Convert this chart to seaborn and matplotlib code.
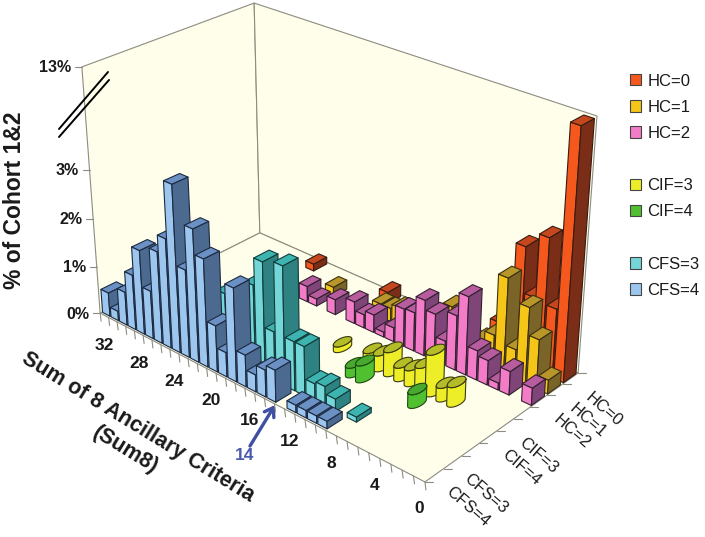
import numpy as np
import seaborn as sns
import matplotlib
matplotlib.use("Agg")
import matplotlib.pyplot as plt
from matplotlib.lines import Line2D
from matplotlib.patches import Patch, FancyArrowPatch
from mpl_toolkits.mplot3d.art3d import Poly3DCollection

sns.set_theme(style="white")
plt.rcParams['font.family'] = ['Liberation Sans', 'DejaVu Sans']

W, H = 705, 537

# --- data: Sum8 value and % of cohort for each group ---
hc0_sum8 = [25, 17, 7, 6, 4, 3, 2, 1, 0]
hc0_pct = [0.15, 0.25, 0.2, 0.65, 2.37, 1.45, 2.72, 1.4, 12.7]
hc1_sum8 = [21, 16, 15, 14, 9, 6, 5, 4, 3, 2, 1, 0]
hc1_pct = [0.2, 0.3, 0.3, 0.4, 0.9, 0.5, 0.7, 1.95, 0.6, 1.55, 1.0, 0.28]
hc2_sum8 = [22, 21, 19, 17, 16, 15, 14, 13, 12, 11, 10, 9, 8, 7, 6, 5, 4, 3, 2, 0]
hc2_pct = [0.33, 0.15, 0.32, 0.46, 0.28, 0.37, 0.1, 0.29, 0.78, 0.8, 1.15, 0.96, 0.5,
           1.12, 1.6, 0.6, 0.5, 0.14, 0.48, 0.35]
cif3_sum8 = [15, 12, 11, 10, 9, 8, 7, 6, 5, 4]
cif3_pct = [0.12, 0.28, 0.33, 0.5, 0.28, 0.33, 0.48, 0.85, 0.28, 0.4]
cif4_sum8 = [12, 11, 6]
cif4_pct = [0.2, 0.35, 0.28]
cfs3_sum8 = [21, 18, 17, 16, 15, 14, 13, 12, 11, 10, 8]
cfs3_pct = [1.3, 1.75, 2.3, 1.0, 2.4, 1.0, 1.0, 0.35, 0.4, 0.25, 0.1]
cfs4_sum8 = [32, 31, 30, 29, 28, 27, 26, 25, 24, 23, 22, 21, 20, 19, 18, 17, 16, 15, 14,
             12, 11, 10, 9]
cfs4_pct = [0.5, 0.2, 0.7, 1.15, 1.75, 1.0, 1.9, 2.25, 3.4, 1.8, 2.7, 2.2, 0.95, 0.5, 1.9,
            0.65, 0.35, 0.55, 0.65, 0.15, 0.15, 0.15, 0.15]

group_names = ["HC=0", "HC=1", "HC=2", "CIF=3", "CIF=4", "CFS=3", "CFS=4"]
group_slots = [8, 7, 6, 4, 3, 1, 0]
group_sum8 = [hc0_sum8, hc1_sum8, hc2_sum8, cif3_sum8, cif4_sum8, cfs3_sum8, cfs4_sum8]
group_pct = [hc0_pct, hc1_pct, hc2_pct, cif3_pct, cif4_pct, cfs3_pct, cfs4_pct]
sum8_ticks = [32, 28, 24, 20, 16, 12, 8, 4, 0]
pct_ticks = [0, 1, 2, 3, 13]
pct_labels = ["0%", "1%", "2%", "3%", "13%"]

# front, side, top colour per group
group_colors = [
    ("#F4581C", "#7A2E18", "#C4481E"),
    ("#F5C518", "#7B6428", "#B8962A"),
    ("#F27CC8", "#7F4478", "#B85CA0"),
    ("#EEEE28", "#EEEE28", "#B4BC28"),
    ("#50C030", "#50C030", "#48A830"),
    ("#74D6D6", "#2E8282", "#3DB4B0"),
    ("#9CC6EE", "#4C6A90", "#6A90C4"),
]
edge_colors = ["#3a1a10", "#3a3010", "#33202f", "#3a3a10", "#1c4a10", "#123c3c", "#1c2a40"]
CREAM = "#FEFEEA"
GRID = "#8c8c80"

X_MAX, Y_MAX, Z_MAX = 33, 9, 5


def to_display(v):
    # the axis is broken above 4: the last step runs up to 13%
    return v if v <= 4 else 4 + (v - 4) / 9


# --- camera: fitted on the corners of the box in the picture ---
box_3d = [(33, 0, 0), (0, 0, 0), (0, 9, 0), (33, 9, 0), (33, 0, 5), (33, 9, 5), (0, 9, 5)]
box_px = [(100, 313), (425, 482), (578, 373), (260, 233), (82, 67), (254, 3), (597, 116)]
rows = []
for (a, b, c), (u, v) in zip(box_3d, box_px):
    rows.append([a, b, c, 1, 0, 0, 0, 0, -u * a, -u * b, -u * c, -u])
    rows.append([0, 0, 0, 0, a, b, c, 1, -v * a, -v * b, -v * c, -v])
P = np.linalg.svd(np.array(rows, float))[2][-1].reshape(3, 4)
CAM = np.linalg.svd(P)[2][-1]


def to_px(x, y, z):
    h = P @ np.array([x, y, z, np.ones_like(x)], float)
    return h[0] / h[2], h[1] / h[2]


fig = plt.figure(figsize=(W / 100, H / 100), dpi=100)
ax = fig.add_axes([-0.2, -0.2, 1.4, 1.4], projection='3d', computed_zorder=False)
ax.set_axis_off()
ax.autoscale(False)
ax.apply_aspect()


def fitted_proj():
    to_ax = ax.transData.inverted().get_matrix() @ np.array([[1, 0, 0], [0, -1, H], [0, 0, 1]])
    q = to_ax @ P
    return np.vstack([q[0], q[1], CAM, q[2]])


ax.get_proj = fitted_proj


def add_poly(faces, colors, edge, z, lw=0.8):
    col = Poly3DCollection(faces, facecolors=colors, edgecolors=edge, linewidths=lw, zorder=z)
    ax.add_collection3d(col, autolim=False)


def draw_bar(s, slot, h, c, edge, z):
    x0, x1 = s + 0.06, s + 0.94
    y0, y1 = slot + 0.1, slot + 0.9
    front = [(x1, y0, 0), (x0, y0, 0), (x0, y0, h), (x1, y0, h)]
    side = [(x0, y0, 0), (x0, y1, 0), (x0, y1, h), (x0, y0, h)]
    top = [(x0, y0, h), (x1, y0, h), (x1, y1, h), (x0, y1, h)]
    add_poly([side, front, top], [c[1], c[0], c[2]], edge, z)


def draw_cylinder(s, slot, h, c, edge, z):
    cx, cy = s + 0.5, slot + 0.5
    a, b = 0.45, 0.46
    ts = np.linspace(0, 2 * np.pi, 73)[:-1]
    u = to_px(cx + a * np.cos(ts), cy + b * np.sin(ts), np.zeros_like(ts))[0]
    lo, hi = sorted([int(np.argmin(u)), int(np.argmax(u))])
    arc = ts[lo:hi + 1]
    if not (arc.min() <= 1.25 * np.pi <= arc.max()):
        arc = np.r_[ts[hi:], ts[:lo + 1] + 2 * np.pi]
    xs, ys = cx + a * np.cos(arc), cy + b * np.sin(arc)
    side = [(p, q, 0) for p, q in zip(xs, ys)] + [(p, q, h) for p, q in zip(xs[::-1], ys[::-1])]
    top = [(cx + a * np.cos(t), cy + b * np.sin(t), h) for t in ts]
    add_poly([side], [c[0]], edge, z)
    add_poly([top], [c[2]], edge, z + 0.1)


# --- walls and floor ---
floor = [(0, 0, 0), (X_MAX, 0, 0), (X_MAX, Y_MAX, 0), (0, Y_MAX, 0)]
left_wall = [(X_MAX, 0, 0), (X_MAX, Y_MAX, 0), (X_MAX, Y_MAX, Z_MAX), (X_MAX, 0, Z_MAX)]
back_wall = [(X_MAX, Y_MAX, 0), (0, Y_MAX, 0), (0, Y_MAX, Z_MAX), (X_MAX, Y_MAX, Z_MAX)]
add_poly([left_wall, back_wall, floor], [CREAM] * 3, GRID, 1)
for level in range(1, Z_MAX):
    ax.plot([X_MAX, X_MAX, 0], [0, Y_MAX, Y_MAX], [level] * 3, color=GRID, lw=0.8, zorder=2)

# --- bars, from the back of the box to the front ---
order = 10
for g in range(len(group_names)):
    pairs = sorted(zip(group_sum8[g], group_pct[g]), reverse=True)
    for s, v in pairs:
        order += 1
        if group_names[g].startswith("CIF"):
            draw_cylinder(s, group_slots[g], to_display(v), group_colors[g], edge_colors[g], order)
        else:
            draw_bar(s, group_slots[g], to_display(v), group_colors[g], edge_colors[g], order)


# --- everything around the box is placed in pixels ---
def px_line(xs, ys, **kw):
    fig.add_artist(Line2D(np.array(xs) / W, 1 - np.array(ys) / H, transform=fig.transFigure, **kw))


def px_text(x, y, s, **kw):
    kw.setdefault('ha', 'center')
    kw.setdefault('va', 'center')
    fig.text(x / W, 1 - y / H, s, **kw)


TXT = "#1a1a1a"
for i in range(X_MAX + 1):
    u, v = to_px(i, 0, 0)
    px_line([u, u + 1], [v, v + 8], color=GRID, lw=0.8)
for i in range(Y_MAX + 1):
    u, v = to_px(0, i, 0)
    px_line([u, u + 8], [v, v], color=GRID, lw=0.8)

for s in sum8_ticks:
    u, v = to_px(s + 0.5, 0, 0)
    px_text(u, v + 30, str(s), fontsize=12.5, fontweight='bold', color=TXT)
for name, slot in zip(group_names, group_slots):
    u, v = to_px(0, slot + 0.5, 0)
    px_text(u + 33, v + 31, name, fontsize=12, rotation=-41, rotation_mode='anchor', color=TXT)
for tick, lab in zip(pct_ticks, pct_labels):
    u, v = to_px(X_MAX, 0, to_display(tick))
    px_line([u - 7, u], [v, v], color=GRID, lw=0.8)
    px_text(u - 11, v + 1, lab, ha='right', fontsize=11.5, fontweight='bold', color=TXT)

# break marks on the value axis
px_line([59, 108], [129, 72], color="black", lw=1.4)
px_line([59, 109], [137, 80], color="black", lw=1.4)

px_text(15, 200, "% of Cohort 1&2", rotation=90, fontsize=16.5, fontweight='bold', color=TXT)
px_text(138, 427, "Sum of 8 Ancillary Criteria", rotation=-31.5, rotation_mode='anchor',
        fontsize=15.5, fontweight='bold', color=TXT)
px_text(125, 450, "(Sum8)", rotation=-31.5, rotation_mode='anchor',
        fontsize=15.5, fontweight='bold', color=TXT)

# arrow to Sum8 = 14
BLUE = "#3F4FA3"
fig.add_artist(FancyArrowPatch(
    (250 / W, 1 - 446 / H), (275 / W, 1 - 405 / H), transform=fig.transFigure,
    arrowstyle='->,head_length=6,head_width=4', color=BLUE, lw=2.4, shrinkA=0, shrinkB=0))
px_text(245, 456, "14", fontsize=12.5, fontweight='bold', color="#4A5AAE")

# --- legend, with blank rows between the groups ---
blank = Patch(visible=False)
handles, labels = [], []
for g, name in enumerate(group_names):
    if name in ("CIF=3", "CFS=3"):
        handles.append(blank)
        labels.append("")
    handles.append(Patch(facecolor=group_colors[g][0], edgecolor="#444444", linewidth=0.8))
    labels.append(name)
fig.legend(handles, labels, loc='upper left', bbox_to_anchor=(630 / W, 1 - 73.5 / H), frameon=False,
           fontsize=12, handlelength=0.68, handleheight=0.68, handletextpad=0.36,
           labelspacing=0.67, borderaxespad=0, borderpad=0, labelcolor=TXT)

fig.savefig("out.png", dpi=100)
